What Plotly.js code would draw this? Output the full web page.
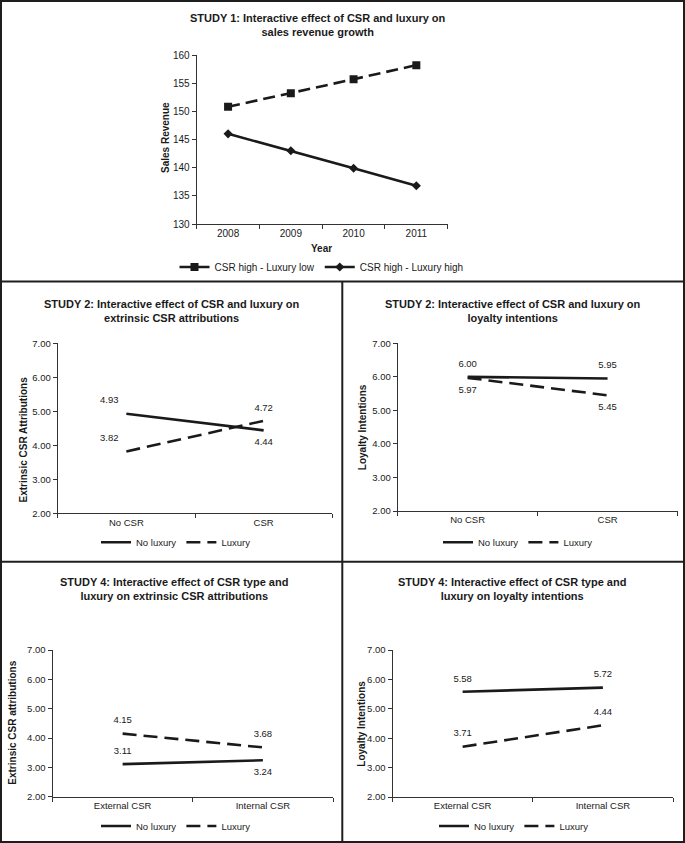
<!DOCTYPE html>
<html><head><meta charset="utf-8">
<script src="https://cdn.plot.ly/plotly-3.0.1.min.js"></script>
<style>html,body{margin:0;padding:0;background:#fff;}#chart{width:685px;height:843px;}</style>
</head><body><div id="chart"></div>
<script>
// ---- data ----
const years = ['2008', '2009', '2010', '2011'];
const s1LuxLow = [150.8, 153.2, 155.7, 158.2];
const s1LuxHigh = [146.0, 143.0, 139.9, 136.8];
const s1Names = ['CSR high - Luxury low', 'CSR high - Luxury high'];

const csrCats = ['No CSR', 'CSR'];
const s2ExtNoLux = [4.93, 4.44];
const s2ExtLux = [3.82, 4.72];
const s2LoyNoLux = [6.00, 5.95];
const s2LoyLux = [5.97, 5.45];

const typeCats = ['External CSR', 'Internal CSR'];
const s4ExtNoLux = [3.11, 3.24];
const s4ExtLux = [4.15, 3.68];
const s4LoyNoLux = [5.58, 5.72];
const s4LoyLux = [3.71, 4.44];

const seriesNames = ['No luxury', 'Luxury'];

const titles = [
  ['STUDY 1: Interactive effect of CSR and luxury on', 'sales revenue growth'],
  ['STUDY 2: Interactive effect of CSR and luxury on', 'extrinsic CSR attributions'],
  ['STUDY 2: Interactive effect of CSR and luxury on', 'loyalty intentions'],
  ['STUDY 4: Interactive effect of CSR type and', 'luxury on extrinsic CSR attributions'],
  ['STUDY 4: Interactive effect of CSR type and', 'luxury on loyalty intentions']
];
const yTitles = ['Sales Revenue', 'Extrinsic CSR Attributions', 'Loyalty Intentions', 'Extrinsic CSR attributions', 'Loyalty Intentions'];
const xTitle1 = 'Year';

// ---- layout helpers ----
const W = 685, H = 843;
const fx = p => p / W;
const fy = p => 1 - p / H;
const FONT = "'Liberation Sans', Arial, sans-serif";
const INK = '#1a1a1a';
const LW = 2.6;
const SMALL = 9.5;

const traces = [];
// Study 1
traces.push({x: years, y: s1LuxLow, name: s1Names[0], mode: 'lines+markers', xaxis: 'x', yaxis: 'y', legend: 'legend',
  line: {color: INK, width: LW, dash: '12px,6px'}, marker: {symbol: 'square', size: 8, color: INK}});
traces.push({x: years, y: s1LuxHigh, name: s1Names[1], mode: 'lines+markers', xaxis: 'x', yaxis: 'y', legend: 'legend',
  line: {color: INK, width: LW}, marker: {symbol: 'diamond', size: 7, color: INK}});

function pair(cats, a, b, ax, lg, posA, posB) {
  // transparent markers only to give the value labels some clearance from the line
  const hidden = {size: 11, color: 'rgba(0,0,0,0)', line: {width: 0, color: 'rgba(0,0,0,0)'}};
  traces.push({x: cats, y: a, name: seriesNames[0], mode: 'lines+markers+text', xaxis: 'x' + ax, yaxis: 'y' + ax, legend: lg,
    line: {color: INK, width: LW}, marker: hidden, texttemplate: '%{y:.2f}', textposition: posA,
    textfont: {family: FONT, size: SMALL, color: INK}});
  traces.push({x: cats, y: b, name: seriesNames[1], mode: 'lines+markers+text', xaxis: 'x' + ax, yaxis: 'y' + ax, legend: lg,
    line: {color: INK, width: LW, dash: '14px,7px'}, marker: hidden, texttemplate: '%{y:.2f}', textposition: posB,
    textfont: {family: FONT, size: SMALL, color: INK}});
}
pair(csrCats, s2ExtNoLux, s2ExtLux, 2, 'legend2', ['top left', 'bottom center'], ['top left', 'top center']);
pair(csrCats, s2LoyNoLux, s2LoyLux, 3, 'legend3', ['top center', 'top center'], ['bottom center', 'bottom center']);
pair(typeCats, s4ExtNoLux, s4ExtLux, 4, 'legend4', ['top center', 'bottom center'], ['top center', 'top center']);
pair(typeCats, s4LoyNoLux, s4LoyLux, 5, 'legend5', ['top center', 'top center'], ['top center', 'top center']);

function xax(l, r, anchor, fs) {
  return {domain: [fx(l), fx(r)], anchor: anchor, type: 'category', tickson: 'boundaries', ticks: 'outside', ticklen: 4,
    tickcolor: '#333', showline: true, linecolor: '#333', linewidth: 1, showgrid: false, zeroline: false,
    tickfont: {family: FONT, size: fs, color: INK}, fixedrange: true};
}
function yax(t, b, anchor, range, dtick, fmt, fs) {
  return {domain: [fy(b), fy(t)], anchor: anchor, range: range, dtick: dtick, tick0: range[0], tickformat: fmt,
    ticks: 'outside', ticklen: 4, tickcolor: '#333', showline: true, linecolor: '#333', linewidth: 1,
    showgrid: false, zeroline: false, tickfont: {family: FONT, size: fs, color: INK}, fixedrange: true};
}

const layout = {
  width: W, height: H, margin: {l: 0, r: 0, t: 0, b: 0}, paper_bgcolor: '#fff', plot_bgcolor: 'rgba(0,0,0,0)',
  font: {family: FONT, color: INK, size: SMALL},
  xaxis: Object.assign(xax(196.7, 447.7, 'y', 10), {range: [-0.5, 3.5]}),
  yaxis: yax(55, 224, 'x', [130, 160], 5, 'd', 10),
  xaxis2: Object.assign(xax(57.7, 332.3, 'y2', SMALL), {range: [-0.5, 1.5]}),
  yaxis2: yax(343.3, 513.3, 'x2', [2, 7], 1, '.2f', 9.5),
  xaxis3: Object.assign(xax(397.7, 677.5, 'y3', SMALL), {range: [-0.5, 1.5]}),
  yaxis3: yax(343.3, 511, 'x3', [2, 7], 1, '.2f', 9.5),
  xaxis4: Object.assign(xax(52.5, 333, 'y4', SMALL), {range: [-0.5, 1.5]}),
  yaxis4: yax(650, 796.7, 'x4', [2, 7], 1, '.2f', 9.5),
  xaxis5: Object.assign(xax(392.5, 673, 'y5', SMALL), {range: [-0.5, 1.5]}),
  yaxis5: yax(650, 797, 'x5', [2, 7], 1, '.2f', 9.5),
  annotations: [],
  shapes: []
};

const legendBase = {orientation: 'h', xanchor: 'center', yanchor: 'middle', bgcolor: 'rgba(0,0,0,0)',
  font: {family: FONT, size: SMALL, color: INK}, itemwidth: 30, tracegroupgap: 0, itemclick: false};
layout.legend = Object.assign({}, legendBase, {x: fx(321.5), y: fy(267), font: {family: FONT, size: 10, color: INK}});
layout.legend2 = Object.assign({}, legendBase, {x: fx(176), y: fy(542.3)});
layout.legend3 = Object.assign({}, legendBase, {x: fx(518), y: fy(542.3)});
layout.legend4 = Object.assign({}, legendBase, {x: fx(176), y: fy(826)});
layout.legend5 = Object.assign({}, legendBase, {x: fx(514), y: fy(826)});

// titles (two lines each), centre x and centre y of the block
const titlePos = [[318, 25.3], [172, 311.3], [512.5, 311.3], [173.5, 588.8], [512, 588.8]];
titles.forEach((t, i) => {
  layout.annotations.push({text: '<b>' + t[0] + '</b><br><b>' + t[1] + '</b>', xref: 'paper', yref: 'paper',
    x: fx(titlePos[i][0]), y: fy(titlePos[i][1]), xanchor: 'center', yanchor: 'middle', align: 'center', showarrow: false,
    font: {family: FONT, size: 11, color: INK}});
});
// y-axis titles
const yTitlePos = [[165, 138], [22.5, 440], [362.7, 427.5], [11.7, 723], [360.7, 724]];
yTitles.forEach((t, i) => layout.annotations.push({text: '<b>' + t + '</b>', xref: 'paper', yref: 'paper',
  x: fx(yTitlePos[i][0]), y: fy(yTitlePos[i][1]), xanchor: 'center', yanchor: 'middle', textangle: -90, showarrow: false,
  font: {family: FONT, size: 10, color: INK}}));
layout.annotations.push({text: '<b>' + xTitle1 + '</b>', xref: 'paper', yref: 'paper', x: fx(321.7), y: fy(248.3),
  xanchor: 'center', yanchor: 'middle', showarrow: false, font: {family: FONT, size: 10, color: INK}});

// panel borders
const bc = '#1e1e1e';
layout.shapes.push({type: 'rect', xref: 'paper', yref: 'paper', x0: fx(1), x1: fx(684), y0: fy(842), y1: fy(1), line: {color: bc, width: 2}});
layout.shapes.push({type: 'line', xref: 'paper', yref: 'paper', x0: fx(0), x1: fx(685), y0: fy(281.5), y1: fy(281.5), line: {color: bc, width: 2}});
layout.shapes.push({type: 'line', xref: 'paper', yref: 'paper', x0: fx(0), x1: fx(685), y0: fy(561.7), y1: fy(561.7), line: {color: bc, width: 2}});
layout.shapes.push({type: 'line', xref: 'paper', yref: 'paper', x0: fx(342.3), x1: fx(342.3), y0: fy(281.5), y1: fy(843), line: {color: bc, width: 2}});

Plotly.newPlot('chart', traces, layout, {displayModeBar: false, staticPlot: true});
</script></body></html>
